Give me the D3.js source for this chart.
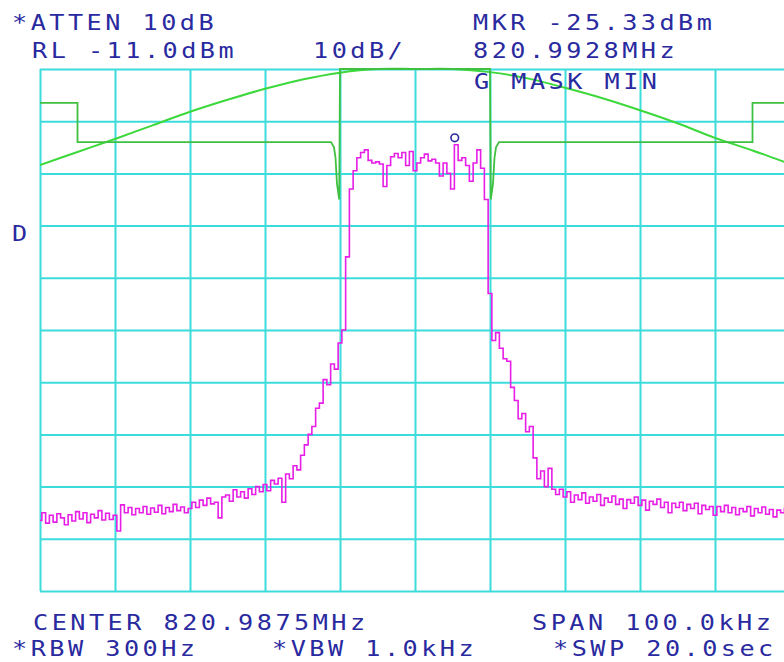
<!DOCTYPE html>
<html>
<head>
<meta charset="utf-8">
<script src="https://cdn.jsdelivr.net/npm/d3@7"></script>
<style>
  body { margin: 0; background: #ffffff; }
  .lbl { font-family: "DejaVu Sans Mono", monospace; font-size: 21px; fill: #2a2aa0; letter-spacing: 2.9px; }
</style>
</head>
<body>
<div id="chart"></div>
<script>
// sweep: offset from centre in kHz, one point every 0.5 kHz
var sweepStart = -50;
var sweepStep = 0.5;

// graticule: 10 kHz/div, 10 dB/div from RL -11 dBm
var xDivs = [-50, -40, -30, -20, -10, 0, 10, 20, 30, 40, 50];
var yDivs = [-111, -101, -91, -81, -71, -61, -51, -41, -31, -21, -11];

// trace A (magenta), dBm per sweep point
var traceDbm = [
  -97.5, -96.0, -98.0, -96.5, -97.8, -96.2, -97.0, -98.3, -96.4, -97.6,
  -95.8, -97.2, -96.0, -97.9, -96.3, -97.0, -95.6, -97.4, -96.1, -97.3,
  -96.5, -99.5, -94.5, -96.0, -95.0, -96.4, -95.2, -96.0, -94.8, -96.3,
  -95.1, -95.9, -94.6, -96.2, -95.0, -95.8, -94.4, -95.6, -94.9, -96.0,
  -95.2, -94.0, -95.0, -93.6, -94.6, -93.2, -94.3, -94.0, -97.0, -93.0,
  -92.6, -93.8, -91.6, -93.0, -92.0, -93.2, -91.4, -92.5, -91.0, -92.0,
  -90.6, -91.8, -89.8, -90.5, -89.4, -94.0, -88.6, -89.5, -87.0, -87.8,
  -85.0, -83.0, -81.0, -79.5, -76.0, -75.0, -70.5, -71.5, -67.5, -68.5,
  -63.5, -61.0, -47.0, -34.0, -30.5, -28.0, -27.0, -26.5, -28.5, -29.0,
  -28.8, -29.2, -33.5, -29.5, -27.8, -27.2, -28.0, -27.0, -29.5, -26.8,
  -30.5, -29.0, -28.0, -27.3, -28.6, -28.3, -29.0, -31.5, -29.0, -31.0,
  -34.0, -25.5, -28.5, -28.0, -29.5, -32.5, -29.0, -26.5, -30.0, -36.0,
  -54.0, -63.0, -61.5, -64.5, -66.5, -67.0, -72.0, -74.5, -78.0, -77.0,
  -80.5, -79.5, -85.5, -89.5, -88.0, -91.0, -87.5, -91.5, -92.5, -91.5,
  -93.0, -92.0, -94.0, -92.6, -93.5, -92.2, -94.2, -93.0, -93.8, -92.5,
  -94.6, -93.2, -94.0, -92.8, -94.4, -93.4, -95.2, -93.5, -94.2, -93.0,
  -94.6, -93.6, -95.5, -93.8, -94.4, -93.4, -95.0, -94.0, -96.0, -94.2,
  -95.0, -94.0, -95.6, -94.4, -95.2, -94.2, -96.2, -94.6, -95.4, -94.8,
  -96.5, -94.8, -95.8, -94.6, -96.0, -95.0, -96.4, -95.2, -95.8, -94.8,
  -96.6, -95.2, -96.0, -94.9, -96.3, -95.4, -96.8, -95.5, -96.0, -95.2,
  -96.4
];

// limit mask (green)
var maskKhz = [-50, -45, -45, -11.2, -10.8, -10.6, -10.4, -10.1, -10.0, 10.0, 10.1, 10.4, 10.6, 10.8, 11.2, 45, 45, 50];
var maskDbm = [-17.5, -17.5, -25, -25, -26, -28, -33, -36, -11, -11, -36, -33, -28, -26, -25, -25, -17.5, -17.5];

// min hold curve (green)
var minKhz = [-50, -45, -40, -35, -30, -25, -20, -15, -10, -5, 0, 5, 10, 15, 20, 25, 30, 35, 40, 45, 50];
var minDbm = [-29.4, -26.9, -24.4, -21.8, -19.2, -16.9, -14.8, -13.0, -11.7, -11.0, -11.0, -11.0, -11.6, -12.8, -14.6, -16.6, -18.9, -21.4, -24.2, -26.6, -29.2];

// marker
var markerKhz = 5.3;
var markerDbm = -25.33;

var labels = [
  { t: "*ATTEN 10dB", x: 12, y: 30 },
  { t: "RL -11.0dBm", x: 32, y: 58 },
  { t: "10dB/", x: 313, y: 58 },
  { t: "MKR -25.33dBm", x: 473, y: 30 },
  { t: "820.9928MHz", x: 473, y: 58 },
  { t: "G MASK MIN", x: 474, y: 89 },
  { t: "D", x: 12, y: 241 },
  { t: "CENTER 820.9875MHz", x: 33, y: 630 },
  { t: "SPAN 100.0kHz", x: 532, y: 630 },
  { t: "*RBW 300Hz", x: 12, y: 656 },
  { t: "*VBW 1.0kHz", x: 272, y: 656 },
  { t: "*SWP 20.0sec", x: 553, y: 656 }
];

window.onload = function() {
    var w = 784, h = 662;
    var left = 40, right = 790, top = 69, bottom = 591;

    var svg = d3.select("#chart").append("svg")
        .attr("width", w).attr("height", h);

    var x = d3.scaleLinear().domain([-50, 50]).range([left, right]);
    var y = d3.scaleLinear().domain([-111, -11]).range([bottom, top]);

    svg.append("clipPath").attr("id", "plot")
       .append("rect").attr("x", left).attr("y", top - 2)
       .attr("width", right - left).attr("height", bottom - top + 2);

    // graticule
    var gx = svg.append("g").attr("transform", "translate(0," + bottom + ")")
        .call(d3.axisBottom(x).tickValues(xDivs).tickSize(-(bottom - top)).tickFormat(""));
    var gy = svg.append("g").attr("transform", "translate(" + left + ",0)")
        .call(d3.axisLeft(y).tickValues(yDivs).tickSize(-(right - left)).tickFormat(""));
    [gx, gy].forEach(function(g) {
        g.select(".domain").remove();
        g.selectAll("line").attr("stroke", "#3cdcdc").attr("stroke-width", 2);
    });

    var plot = svg.append("g").attr("clip-path", "url(#plot)");

    // min hold curve
    var minLine = d3.line()
        .x(function(d, i) { return x(minKhz[i]); })
        .y(function(d) { return y(d); })
        .curve(d3.curveCatmullRom);
    plot.append("path").datum(minDbm)
        .attr("d", minLine)
        .attr("fill", "none").attr("stroke", "#3cd83c").attr("stroke-width", 2);

    // mask
    var maskLine = d3.line()
        .x(function(d, i) { return x(maskKhz[i]); })
        .y(function(d) { return y(d); });
    plot.append("path").datum(maskDbm)
        .attr("d", maskLine)
        .attr("fill", "none").attr("stroke", "#40c040").attr("stroke-width", 1.8);

    // trace
    var traceLine = d3.line()
        .x(function(d, i) { return x(sweepStart + i * sweepStep); })
        .y(function(d) { return y(d); })
        .curve(d3.curveStep);
    plot.append("path").datum(traceDbm)
        .attr("d", traceLine)
        .attr("fill", "none").attr("stroke", "#e61ee6").attr("stroke-width", 1.6);

    // marker
    svg.append("circle")
        .attr("cx", x(markerKhz)).attr("cy", y(markerDbm) - 6)
        .attr("r", 3.8)
        .attr("fill", "#ffffff").attr("stroke", "#2a2aa0").attr("stroke-width", 1.6);

    // annotation text, stretched a little wider like the plotter font
    svg.selectAll("text.lbl")
       .data(labels)
       .enter()
       .append("text")
       .attr("class", "lbl")
       .attr("transform", function(d) { return "translate(" + d.x + "," + d.y + ") scale(1.2,1)"; })
       .text(function(d) { return d.t; });
};
</script>
</body>
</html>
